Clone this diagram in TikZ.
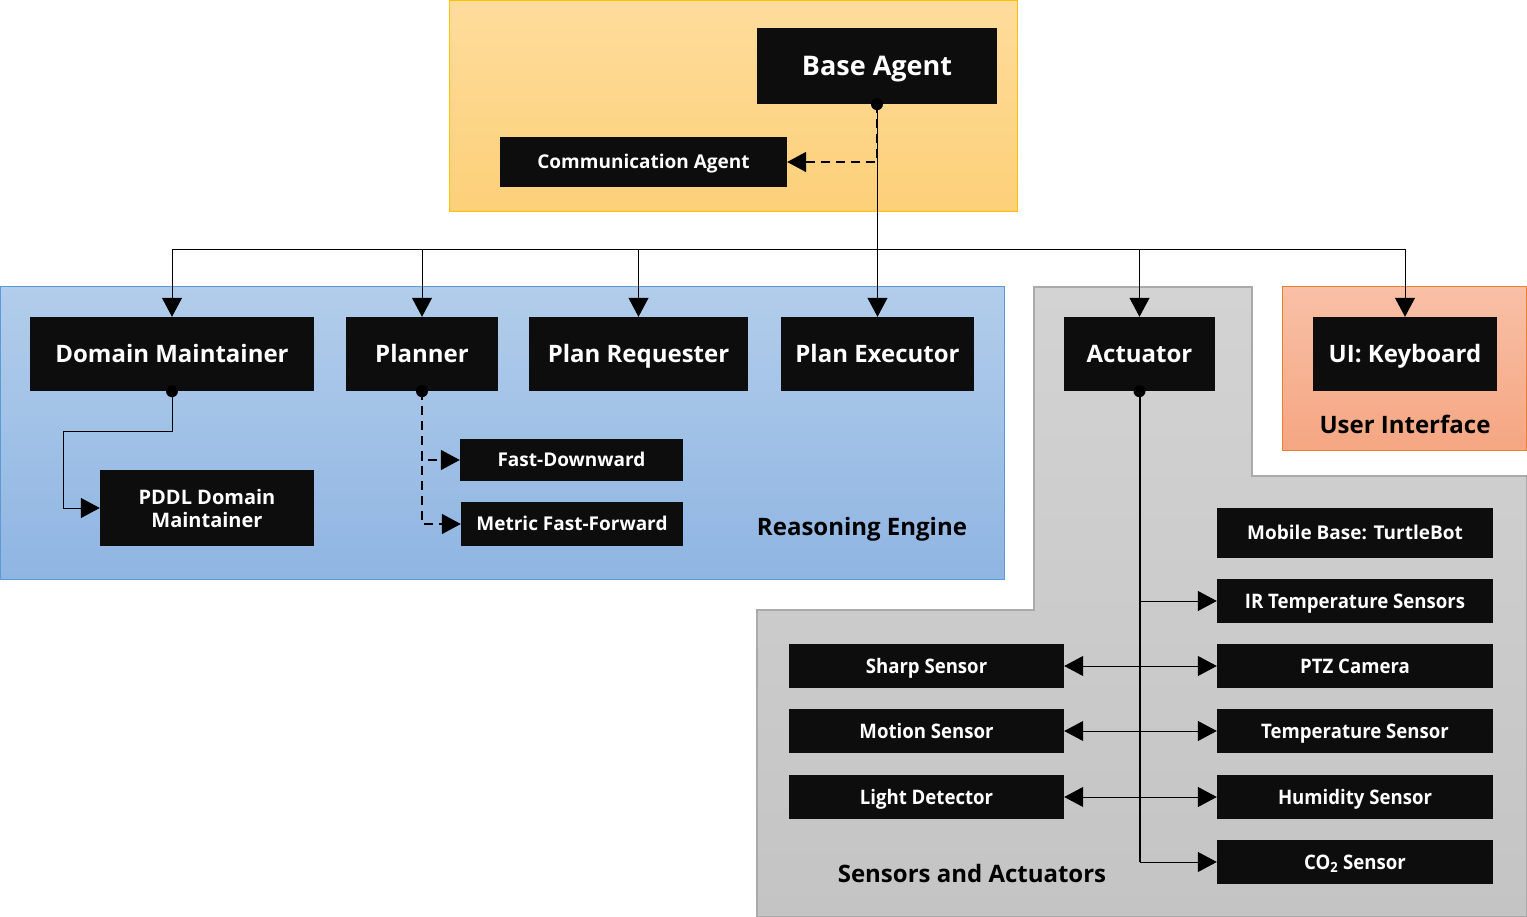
\documentclass[tikz,border=0pt]{standalone}
\usepackage{fontspec}
\setmainfont{Open Sans}
\newfontfamily\condfont{Open Sans}[FakeStretch=0.93]
\usetikzlibrary{arrows.meta}
\definecolor{boxblack}{HTML}{0D0D0D}
\definecolor{orgtop}{RGB}{254,220,156}
\definecolor{orgbot}{RGB}{253,208,121}
\definecolor{orgborder}{RGB}{255,192,0}
\definecolor{bluetop}{RGB}{178,205,235}
\definecolor{bluebot}{RGB}{143,181,226}
\definecolor{blueborder}{RGB}{91,155,213}
\definecolor{graytop}{RGB}{211,211,211}
\definecolor{graybot}{RGB}{196,196,196}
\definecolor{grayborder}{RGB}{170,170,170}
\definecolor{uitop}{RGB}{248,192,166}
\definecolor{uibot}{RGB}{245,166,130}
\definecolor{uiborder}{RGB}{237,125,49}
\newcommand{\fs}[1]{\fontsize{#1pt}{\dimexpr #1pt*115/100\relax}\selectfont\bfseries}
\begin{document}
\begin{tikzpicture}[x=1pt,y=-1pt,
  box/.style={fill=boxblack,text=white,inner sep=0pt,align=center},
  bigbox/.style={box,minimum height=74pt,font=\fs{24},text height=17pt,text depth=0pt},
  smallbox/.style={box,font=\fs{19},text height=13.6pt,text depth=0pt},
  sensbox/.style={box,minimum height=44pt,font=\condfont\fs{20},text height=14.3pt,text depth=0pt},
  arr/.style={-{Triangle[length=19pt,width=20pt]}},
  conn/.style={line width=1pt,black},
  dashconn/.style={line width=1.6pt,black,dash pattern=on 9pt off 6pt},
  grouplabel/.style={font=\fs{24},text=black},
]
\useasboundingbox (0,0) rectangle (1527,917);
% containers
\path[top color=orgtop,bottom color=orgbot,draw=orgborder,line width=1pt] (449.5,0.5) rectangle (1017,212);
\path[top color=bluetop,bottom color=bluebot,draw=blueborder,line width=1pt] (0.5,287) rectangle (1004,579);
\path[top color=graytop,bottom color=graybot,draw=grayborder,line width=1.5pt]
  (1034,287) -- (1252,287) -- (1252,476) -- (1526.5,476) -- (1526.5,916.5) -- (757,916.5) -- (757,610) -- (1034,610) -- cycle;
\path[top color=uitop,bottom color=uibot,draw=uiborder,line width=1pt] (1282,287) rectangle (1526,450);
% nodes
\node[box,minimum width=240pt,minimum height=76pt,font=\fs{27},text height=19.3pt,text depth=0pt] (base) at (877,66) {Base Agent};
\node[smallbox,minimum width=287pt,minimum height=50pt] (comm) at (643.5,162) {Communication Agent};
\node[bigbox,minimum width=284pt] (dm) at (172,354) {Domain Maintainer};
\node[bigbox,minimum width=152pt] (pl) at (422,354) {Planner};
\node[bigbox,minimum width=219pt] (preq) at (638.5,354) {Plan Requester};
\node[bigbox,minimum width=193pt] (pex) at (877.5,354) {Plan Executor};
\node[bigbox,minimum width=151pt] (act) at (1139.5,354) {Actuator};
\node[bigbox,minimum width=184pt] (ui) at (1405,354) {UI: Keyboard};
\node[box,minimum width=214pt,minimum height=76pt,font=\fs{20}] (pddl) at (207,508) {PDDL Domain\\Maintainer};
\node[smallbox,minimum width=223pt,minimum height=42pt] (fd) at (571.5,460) {Fast-Downward};
\node[smallbox,minimum width=222pt,minimum height=44pt] (mff) at (572,524) {Metric Fast-Forward};
\node[smallbox,minimum width=276pt,minimum height=50pt] (mb) at (1355,533) {Mobile Base: TurtleBot};
\node[sensbox,minimum width=276pt] (ir) at (1355,601) {IR Temperature Sensors};
\node[sensbox,minimum width=276pt] (ptz) at (1355,666) {PTZ Camera};
\node[sensbox,minimum width=276pt] (temp) at (1355,731) {Temperature Sensor};
\node[sensbox,minimum width=276pt] (hum) at (1355,797) {Humidity Sensor};
\node[sensbox,minimum width=276pt] (co2) at (1355,862) {CO\textsubscript{2} Sensor};
\node[sensbox,minimum width=275pt] (sharp) at (926.5,666) {Sharp Sensor};
\node[sensbox,minimum width=275pt] (motion) at (926.5,731) {Motion Sensor};
\node[sensbox,minimum width=275pt] (light) at (926.5,797) {Light Detector};
% group labels
\node[grouplabel] (lre) at (862,529) {Reasoning Engine};
\node[grouplabel] (lui) at (1405,424) {User Interface};
\node[grouplabel] (lsa) at (972,873) {Sensors and Actuators};
% connectors
\coordinate (bus) at (877,250);
\coordinate (dmk) at (63,431);
\draw[dashconn,arr] (base.south) |- (comm.east);
\draw[conn] (base.south) -- (bus);
\draw[conn,arr] (bus) -| (dm.north);
\draw[conn,arr] (bus) -| (pl.north);
\draw[conn,arr] (bus) -| (preq.north);
\draw[conn,arr] (bus) -| (pex.north);
\draw[conn,arr] (bus) -| (act.north);
\draw[conn,arr] (bus) -| (ui.north);
\draw[conn,arr] (dm.south) |- (dmk) |- (pddl.west);
\draw[dashconn,arr] (pl.south) |- (fd.west);
\draw[dashconn,arr] (pl.south) |- (mff.west);
\draw[conn,line width=2pt] (act.south) -- (act.south |- co2.west);
\draw[conn,arr] (act.south |- co2.west) -- (co2.west);
\draw[conn,arr] (act.south |- ir.west) -- (ir.west);
\draw[conn,arr] (act.south |- ptz.west) -- (ptz.west);
\draw[conn,arr] (act.south |- temp.west) -- (temp.west);
\draw[conn,arr] (act.south |- hum.west) -- (hum.west);
\draw[conn,arr] (act.south |- sharp.east) -- (sharp.east);
\draw[conn,arr] (act.south |- motion.east) -- (motion.east);
\draw[conn,arr] (act.south |- light.east) -- (light.east);
% dots
\fill (base.south) circle (6);
\fill (dm.south) circle (6);
\fill (pl.south) circle (6);
\fill (act.south) circle (6);
\end{tikzpicture}
\end{document}
